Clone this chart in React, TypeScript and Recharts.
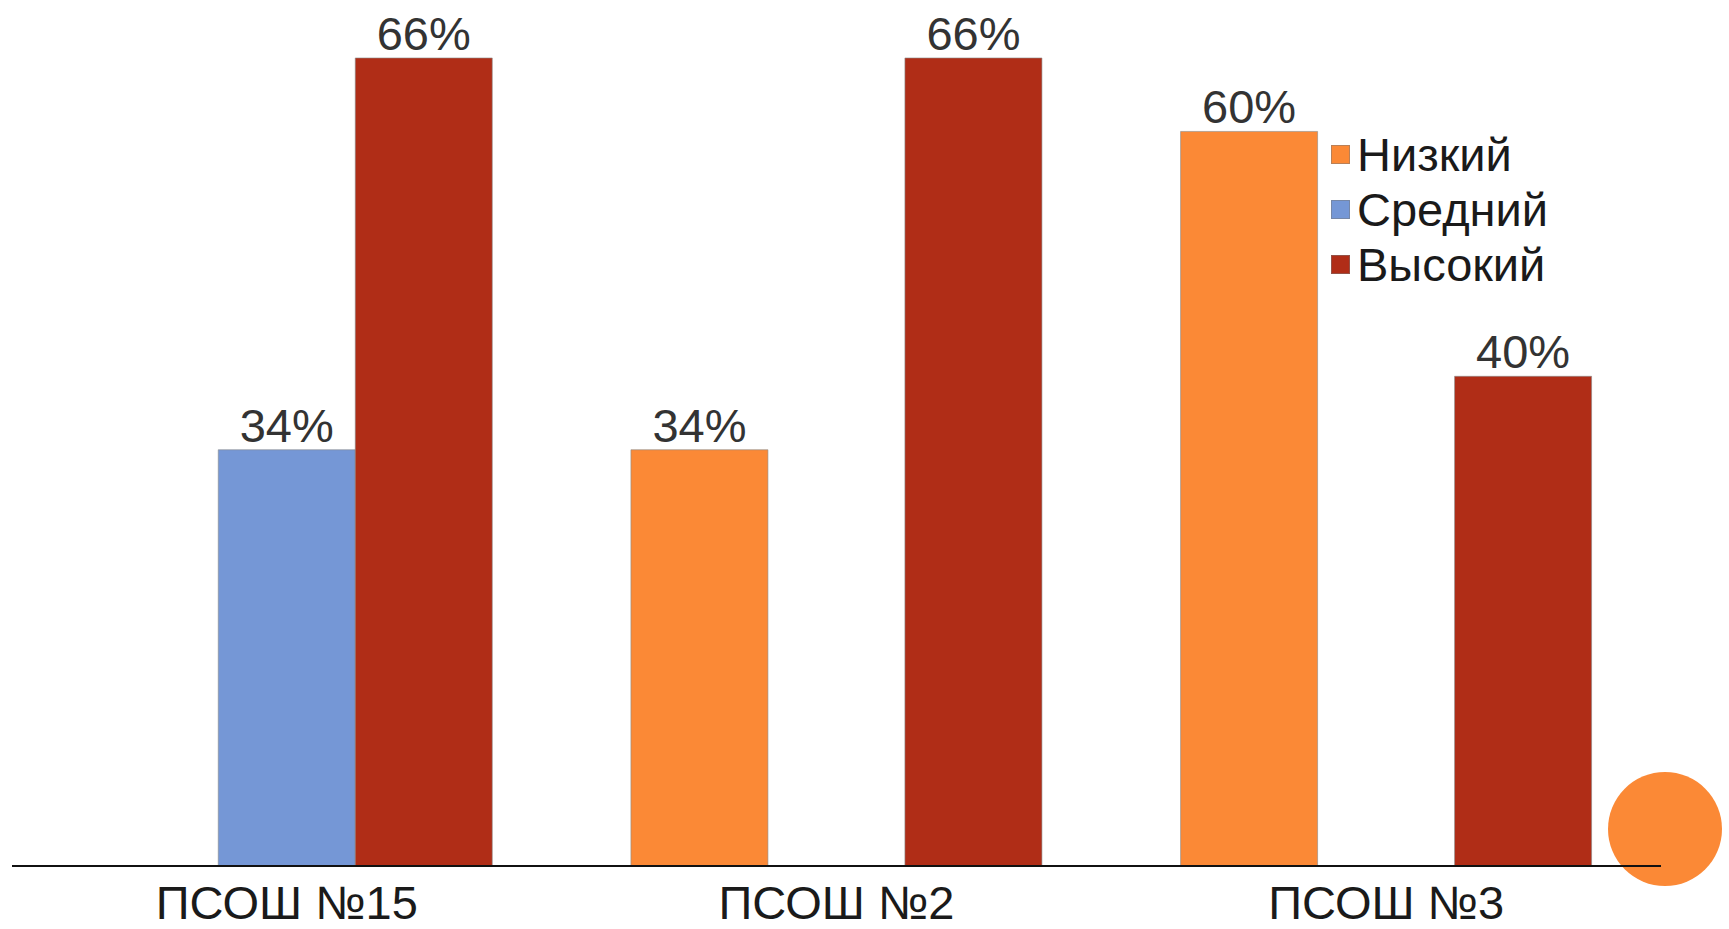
import React from 'react';
import { BarChart, Bar, XAxis, YAxis, LabelList } from 'recharts';

const categories = ['ПСОШ №15', 'ПСОШ №2', 'ПСОШ №3'];
const lowValues: (number | null)[] = [null, 34, 60];
const midValues: (number | null)[] = [34, null, null];
const highValues: (number | null)[] = [66, 66, 40];
const seriesNames = ['Низкий', 'Средний', 'Высокий'];
const colors = ['#FB8936', '#7597D6', '#B02D17'];

const data = categories.map((name, i) => ({
  name,
  low: lowValues[i],
  mid: midValues[i],
  high: highValues[i],
}));

const FONT = "'Liberation Sans', Arial, sans-serif";
const fmt = (v: any) => (v === null || v === undefined ? '' : `${v}%`);

const CategoryTick = (props: any) => {
  const { x, y, payload } = props;
  return (
    <text x={x} y={y} dy={53} textAnchor="middle" fontFamily={FONT} fontSize={47} fill="#1a1a1a">
      {payload.value}
    </text>
  );
};

const ChartLegend = () => (
  <div style={{ position: 'absolute', left: 1331, top: 127, fontFamily: FONT }}>
    {seriesNames.map((name, i) => (
      <div key={name} style={{ display: 'flex', alignItems: 'center', height: 55 }}>
        <span
          style={{
            display: 'inline-block',
            width: 17,
            height: 17,
            background: colors[i],
            border: '1px solid rgba(120,120,120,0.5)',
            marginRight: 7,
          }}
        />
        <span style={{ fontSize: 47, color: '#1a1a1a', lineHeight: '55px' }}>{name}</span>
      </div>
    ))}
  </div>
);

export default function App() {
  return (
    <div style={{ position: 'fixed', left: 0, top: 0, width: 1729, height: 929, background: '#fff' }}>
      <div
        style={{
          position: 'absolute',
          left: 1608,
          top: 772,
          width: 114,
          height: 114,
          borderRadius: '50%',
          background: '#FB8936',
        }}
      />
      <div style={{ position: 'absolute', left: 0, top: 0 }}>
        <BarChart
          width={1729}
          height={929}
          data={data}
          margin={{ top: 9, right: 68, bottom: 0, left: 12 }}
          barCategoryGap="12.6%"
          barGap={0}
        >
          <XAxis
            dataKey="name"
            axisLine={{ stroke: '#111', strokeWidth: 2 }}
            tickLine={false}
            tickSize={0}
            tickMargin={0}
            height={63}
            interval={0}
            tick={<CategoryTick />}
          />
          <YAxis hide domain={[0, 70]} />
          <Bar dataKey="low" name={seriesNames[0]} fill={colors[0]} stroke="#8a8a8a" strokeOpacity={0.6} strokeWidth={1} isAnimationActive={false}>
            <LabelList dataKey="low" position="top" offset={8} formatter={fmt} fontSize={47} fontFamily={FONT} fill="#333" />
          </Bar>
          <Bar dataKey="mid" name={seriesNames[1]} fill={colors[1]} stroke="#8a8a8a" strokeOpacity={0.6} strokeWidth={1} isAnimationActive={false}>
            <LabelList dataKey="mid" position="top" offset={8} formatter={fmt} fontSize={47} fontFamily={FONT} fill="#333" />
          </Bar>
          <Bar dataKey="high" name={seriesNames[2]} fill={colors[2]} stroke="#8a8a8a" strokeOpacity={0.6} strokeWidth={1} isAnimationActive={false}>
            <LabelList dataKey="high" position="top" offset={8} formatter={fmt} fontSize={47} fontFamily={FONT} fill="#333" />
          </Bar>
        </BarChart>
      </div>
      <ChartLegend />
    </div>
  );
}
